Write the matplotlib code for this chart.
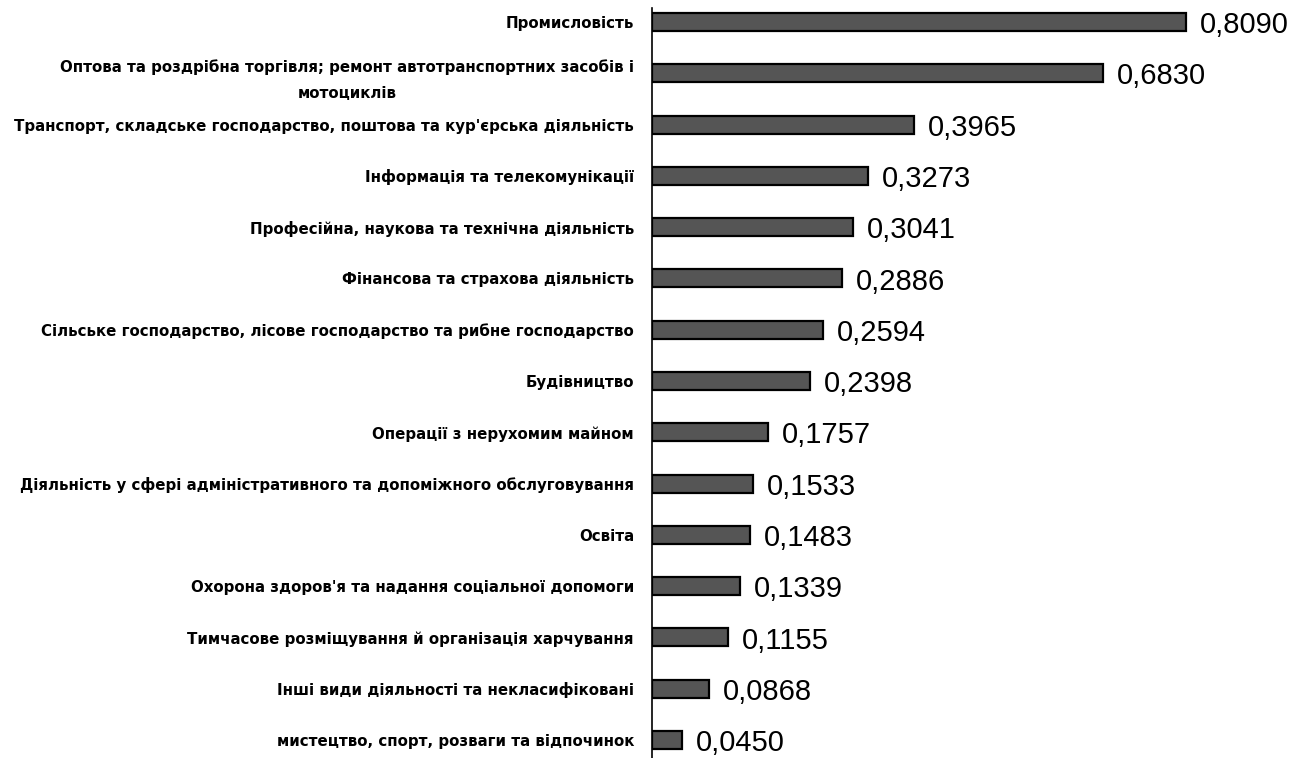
import matplotlib.pyplot as plt
import numpy as np

categories = [
    'Промисловість',
    'Оптова та роздрібна торгівля; ремонт автотранспортних засобів і\nмотоциклів',
    "Транспорт, складське господарство, поштова та кур'єрська діяльність",
    'Інформація та телекомунікації',
    'Професійна, наукова та технічна діяльність',
    'Фінансова та страхова діяльність',
    'Сільське господарство, лісове господарство та рибне господарство',
    'Будівництво',
    'Операції з нерухомим майном',
    'Діяльність у сфері адміністративного та допоміжного обслуговування',
    'Освіта',
    "Охорона здоров'я та надання соціальної допомоги",
    'Тимчасове розміщування й організація харчування',
    'Інші види діяльності та некласифіковані',
    'мистецтво, спорт, розваги та відпочинок',
]
values = [0.8090, 0.6830, 0.3965, 0.3273, 0.3041, 0.2886, 0.2594, 0.2398,
          0.1757, 0.1533, 0.1483, 0.1339, 0.1155, 0.0868, 0.0450]
value_labels = ['0,8090', '0,6830', '0,3965', '0,3273', '0,3041', '0,2886',
                '0,2594', '0,2398', '0,1757', '0,1533', '0,1483', '0,1339',
                '0,1155', '0,0868', '0,0450']

fig = plt.figure(figsize=(12.99, 7.58), dpi=100)
ax = fig.add_axes([652 / 1299, 0, 1 - 652 / 1299, 1 - 8 / 758])

y = np.arange(len(categories))
ax.barh(y, values, height=0.35, color='#555555', edgecolor='black', linewidth=1.6)

for yi, v, lab in zip(y, values, value_labels):
    ax.text(v + 0.021, yi + 0.06, lab, va='center', ha='left',
            fontsize=21, family=['Liberation Sans', 'DejaVu Sans'], color='black')

ax.set_xlim(0, (1299 - 652) / 660)
ax.set_ylim(14 + 18 / 51.3, -14 / 51.3)
ax.set_yticks(y)
ax.set_yticklabels(categories, fontsize=10.8, fontweight='bold',
                   family=['Liberation Sans Narrow', 'DejaVu Sans'],
                   ha='right', multialignment='center', linespacing=1.9)
ax.tick_params(axis='y', length=0, pad=13)
ax.set_xticks([])
for side in ['top', 'right', 'bottom']:
    ax.spines[side].set_visible(False)
ax.spines['left'].set_linewidth(1.2)

plt.savefig('out.png', dpi=100)
